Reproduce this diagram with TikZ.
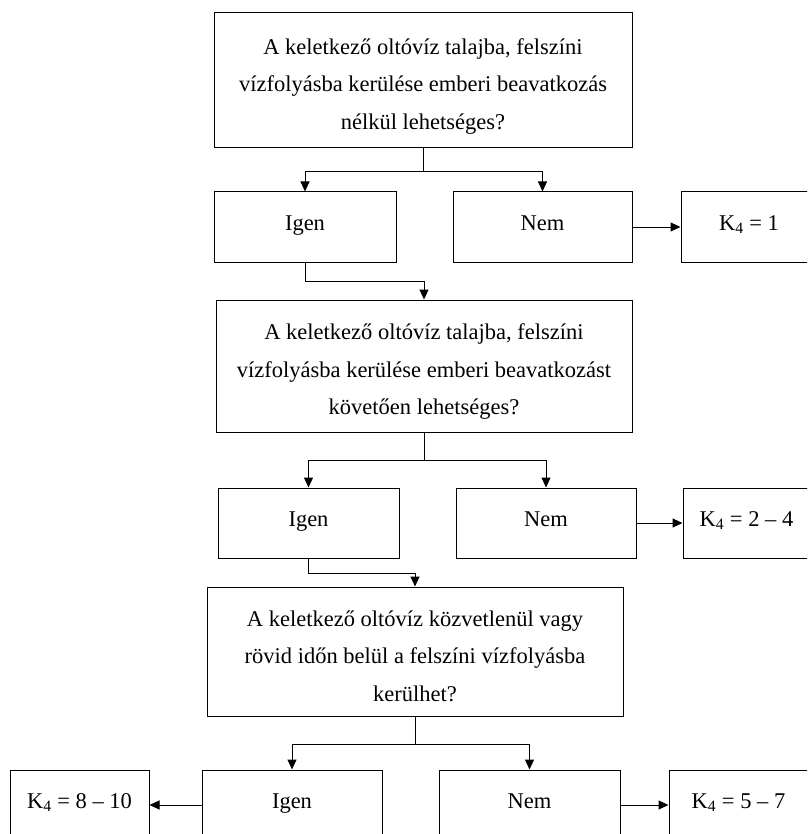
\documentclass[tikz,border=0pt]{standalone}
\usepackage{fontspec}
\setmainfont{Liberation Serif}
\usetikzlibrary{arrows.meta}
\begin{document}
\begin{tikzpicture}[x=1pt,y=-1pt,
  frame/.style={draw,line width=1pt,inner sep=0pt},
  qtext/.style={inner sep=0pt,align=center,font=\fontsize{22.5}{37.5}\selectfont},
  box/.style={frame,font=\fontsize{22.5}{37.5}\selectfont,
    text height=0.67em,text depth=0pt},
  conn/.style={line width=1pt,-{Triangle[length=10pt,width=9pt]}}]
\clip (0,0) rectangle (807,834);
% first question and its answers
\node[frame,minimum width=418,minimum height=135] (q1) at (423,80.5) {};
\node[qtext] (q1t) at ([yshift=-6pt]q1.center)
  {A keletkező oltóvíz talajba, felszíni\\vízfolyásba kerülése emberi beavatkozás\\nélkül lehetséges?};
\node[box,minimum width=182,minimum height=70] (i1) at (305,227) {Igen};
\node[box,minimum width=179,minimum height=70] (n1) at (542.5,227) {Nem};
\node[box,minimum width=136,minimum height=70] (k1) at (749,227) {K\textsubscript{4} = 1};
% second question and its answers
\node[frame,minimum width=416,minimum height=132] (q2) at (424,366) {};
\node[qtext] (q2t) at ([yshift=-6pt]q2.center)
  {A keletkező oltóvíz talajba, felszíni\\vízfolyásba kerülése emberi beavatkozást\\követően lehetséges?};
\node[box,minimum width=181,minimum height=70] (i2) at (308.5,523) {Igen};
\node[box,minimum width=180,minimum height=70] (n2) at (546,523) {Nem};
\node[box,minimum width=127,minimum height=70] (k2) at (746.5,523) {K\textsubscript{4} = 2 – 4};
% third question and its answers
\node[frame,minimum width=416,minimum height=129] (q3) at (415,651.5) {};
\node[qtext] (q3t) at ([yshift=-4.5pt]q3.center)
  {A keletkező oltóvíz közvetlenül vagy\\rövid időn belül a felszíni vízfolyásba\\kerülhet?};
\node[box,minimum width=180,minimum height=70] (i3) at (292,805) {Igen};
\node[box,minimum width=181,minimum height=70] (n3) at (529.5,805) {Nem};
\node[box,minimum width=139,minimum height=70] (k3) at (79.5,805) {K\textsubscript{4} = 8 – 10};
\node[box,minimum width=139,minimum height=70] (k5) at (738.5,805) {K\textsubscript{4} = 5 – 7};
% connectors
\draw[conn] (q1.south) -- ++(0,23) -| (i1.north);
\draw[conn] (q1.south) -- ++(0,23) -| (n1.north);
\draw[conn] (n1.east) -- (k1.west);
\draw[conn] (i1.south) -- ++(0,19) -| (q2.north);
\draw[conn] (q2.south) -- ++(0,28) -| (i2.north);
\draw[conn] (q2.south) -- ++(0,28) -| (n2.north);
\draw[conn] (n2.east) -- (k2.west);
\draw[conn] (i2.south) -- ++(0,15) -| (q3.north);
\draw[conn] (q3.south) -- ++(0,28) -| (i3.north);
\draw[conn] (q3.south) -- ++(0,28) -| (n3.north);
\draw[conn] (i3.west) -- (k3.east);
\draw[conn] (n3.east) -- (k5.west);
\end{tikzpicture}
\end{document}
